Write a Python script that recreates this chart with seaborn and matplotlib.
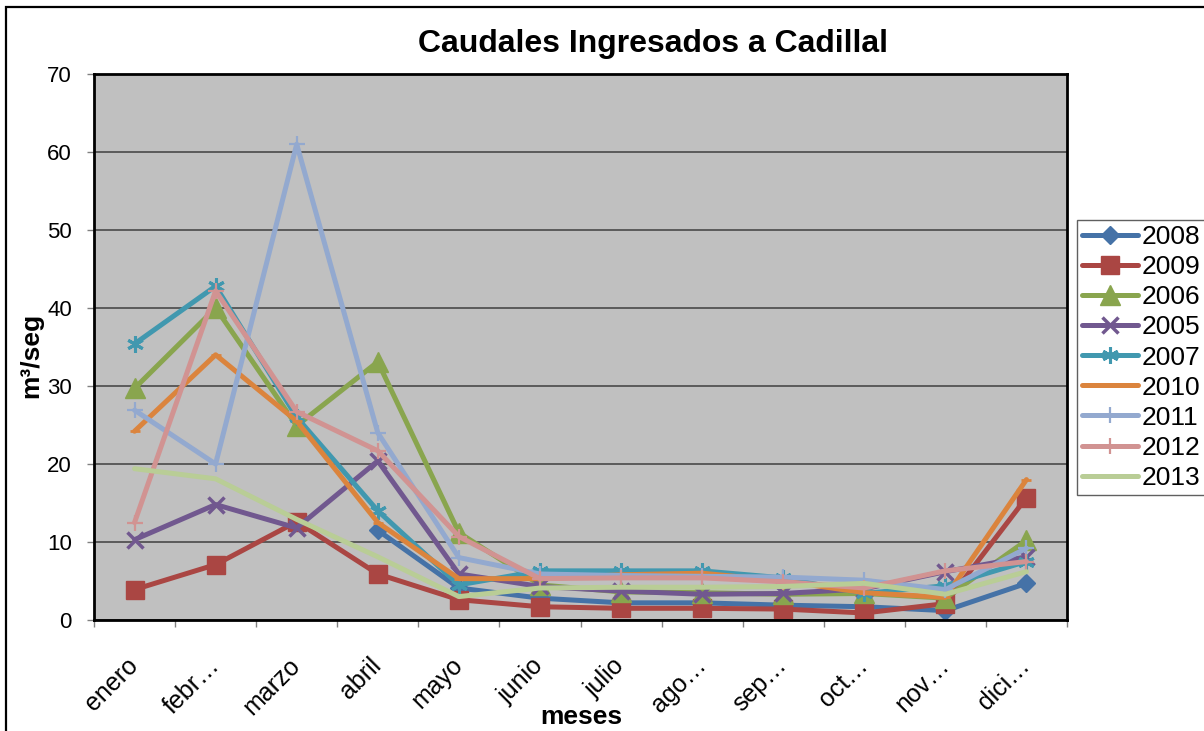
import numpy as np
import pandas as pd
import matplotlib
matplotlib.use("Agg")
import matplotlib.pyplot as plt
import seaborn as sns
from matplotlib.patches import Rectangle
from matplotlib.lines import Line2D

nan = np.nan
months = ["enero", "febr\u2026", "marzo", "abril", "mayo", "junio", "julio",
          "ago\u2026", "sep\u2026", "oct\u2026", "nov\u2026", "dici\u2026"]

y2008 = [nan, nan, nan, 11.5, 4.1, 2.8, 2.2, 2.2, 1.9, 1.7, 1.2, 4.7]
y2009 = [3.9, 7.1, 12.6, 5.9, 2.6, 1.7, 1.5, 1.5, 1.4, 0.9, 2.1, 15.7]
y2006 = [29.7, 40.0, 24.9, 33.1, 11.2, 4.5, 3.6, 3.5, 3.3, 3.4, 2.8, 10.2]
y2005 = [10.3, 14.8, 11.8, 20.4, 5.9, 4.3, 3.7, 3.3, 3.4, 4.0, 6.2, 8.1]
y2007 = [35.4, 42.8, 26.0, 14.0, 4.5, 6.3, 6.3, 6.3, 5.4, 3.4, 4.4, 7.5]
y2010 = [24.2, 34.0, 25.5, 12.5, 5.3, 5.3, 5.8, 6.0, 5.0, 3.5, 2.9, 18.0]
y2011 = [26.9, 20.0, 61.0, 24.0, 8.0, 5.9, 5.7, 5.6, 5.5, 5.1, 3.9, 9.2]
y2012 = [12.5, 42.2, 26.7, 21.7, 10.7, 5.3, 5.4, 5.4, 4.9, 4.1, 6.3, 7.5]
y2013 = [19.4, 18.1, 12.9, 8.1, 3.0, 4.1, 4.2, 4.2, 4.3, 4.7, 3.3, 6.2]

series_names = ["2008", "2009", "2006", "2005", "2007", "2010", "2011", "2012", "2013"]
series_values = [y2008, y2009, y2006, y2005, y2007, y2010, y2011, y2012, y2013]

colors = ["#4572A7", "#AA4643", "#89A54E", "#71588F", "#4198AF",
          "#DB843D", "#93A9CF", "#D19392", "#B9CD96"]
markers = ["D", "s", "^", "x", (6, 2, 0), "_", "+", "+", None]
msizes = [9, 13, 15, 12, 12, 7, 12, 12, 0]
mews = [1, 1, 1, 2.5, 2.2, 2, 1.6, 1.6, 1]

sns.set_theme(style="white")
plt.rcParams['font.family'] = ['Liberation Sans', 'DejaVu Sans']
plt.rcParams['text.color'] = 'black'
plt.rcParams['axes.labelcolor'] = 'black'
plt.rcParams['xtick.color'] = 'black'
plt.rcParams['ytick.color'] = 'black'

fig = plt.figure(figsize=(12.04, 7.31), dpi=100)
fig.patch.set_facecolor("white")
ax = fig.add_axes([94/1204, 1-620/731, (1067-94)/1204, (620-74)/731])
ax.set_facecolor("#C0C0C0")

x = np.arange(len(months))
rows = []
for name, vals in zip(series_names, series_values):
    for xi, v in zip(x, vals):
        rows.append({"mes": xi, "caudal": v, "serie": name})
df = pd.DataFrame(rows)

handles = []
for name, c, m, ms, mew in zip(series_names, colors, markers, msizes, mews):
    sub = df[df["serie"] == name].dropna()
    sns.lineplot(data=sub, x="mes", y="caudal", ax=ax, color=c, linewidth=3.6,
                 marker=m if m is not None else None, markersize=ms,
                 markeredgewidth=mew, markeredgecolor=c, markerfacecolor=c,
                 legend=False, estimator=None, sort=False)
    handles.append(Line2D([0], [0], color=c, linewidth=3.6,
                          marker=m if m is not None else None, markersize=ms,
                          markeredgewidth=mew, markeredgecolor=c, markerfacecolor=c))

ax.set_xlim(-0.5, 11.5)
ax.set_ylim(0, 70)
ax.set_yticks(np.arange(0, 71, 10))
ax.yaxis.grid(True, color="#404040", linewidth=1.1)
ax.xaxis.grid(False)
ax.set_axisbelow(True)
for sp in ax.spines.values():
    sp.set_color("black")
    sp.set_linewidth(2)
    sp.set_visible(True)

ax.set_xticks(x)
ax.set_xticklabels(months, rotation=45, ha="right", va="center",
                   rotation_mode="anchor", fontsize=18)
ax.set_xticks(np.arange(-0.5, 12, 1), minor=True)
ax.tick_params(axis="x", which="major", length=0, pad=30)
ax.tick_params(axis="x", which="minor", length=5, width=1, color="#808080",
               direction="out", bottom=True)
ax.tick_params(axis="y", which="major", length=5, width=1, color="#808080",
               direction="out", left=True, labelsize=16, pad=11)
ax.set_xlabel("")
ax.set_ylabel("")

fig.text(653/1204, 1-52/731, "Caudales Ingresados a Cadillal", ha="center",
         va="baseline", fontsize=23, fontweight="bold")
fig.text(31/1204, 1-355/731, "m\u00b3/seg", rotation=90, ha="center",
         va="center", fontsize=19, fontweight="bold")
fig.text(581/1204, 1-717/731, "meses", ha="center", va="center",
         fontsize=19, fontweight="bold")

leg = fig.legend(handles, series_names, loc="upper left",
                 bbox_to_anchor=(1077/1204, 1-220/731), fontsize=19,
                 frameon=True, fancybox=False, handlelength=2.1,
                 handletextpad=0.15, labelspacing=0.23, borderpad=0.2,
                 borderaxespad=0)
leg.get_frame().set_edgecolor("#606060")
leg.get_frame().set_linewidth(1)
leg.get_frame().set_facecolor("white")
leg.get_frame().set_alpha(1)

fig.patches.append(Rectangle((6/1204, -0.1), 1.2, 1-7/731+0.1,
                             transform=fig.transFigure, fill=False,
                             edgecolor="black", linewidth=1.6, zorder=0))

fig.savefig("out.png", dpi=100)
